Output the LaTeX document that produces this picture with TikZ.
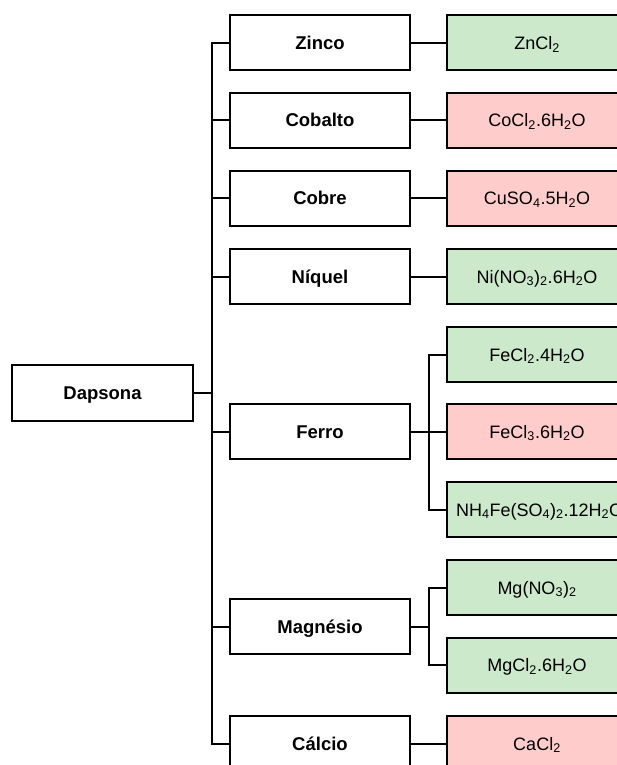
\documentclass[tikz,border=0pt]{standalone}
\usepackage{fontspec}
\setmainfont{Liberation Sans}
\definecolor{gfill}{RGB}{204,233,204}
\definecolor{pfill}{RGB}{255,204,204}
\begin{document}
\begin{tikzpicture}[x=1pt,y=-1pt,
  box/.style={draw=black,line width=2pt,minimum width=180pt,minimum height=55pt,inner sep=0pt,text height=13pt,text depth=0pt,font=\fontsize{18}{20}\selectfont},
  midbox/.style={box,font=\fontsize{18.5}{20}\selectfont\bfseries},
  okbox/.style={box,fill=gfill},
  nobox/.style={box,fill=pfill},
  conn/.style={line width=2pt,line join=miter}]
\clip (0,0) rectangle (617,765);
\fill[white] (0,0) rectangle (617,765);
% root
\node[midbox,minimum width=181pt,minimum height=56pt] (dap) at (102.5,393) {Dapsona};
% middle
\node[midbox] (zin) at (320,43) {Zinco};
\node[midbox] (cob) at (320,120.5) {Cobalto};
\node[midbox] (cub) at (320,198) {Cobre};
\node[midbox] (niq) at (320,276.5) {Níquel};
\node[midbox] (fer) at (320,431.5) {Ferro};
\node[midbox] (mag) at (320,626.5) {Magnésio};
\node[midbox] (cal) at (320,743.5) {Cálcio};
% right
\node[okbox] (zncl) at (537,43) {ZnCl\textsubscript{2}};
\node[nobox] (cocl) at (537,120.5) {CoCl\textsubscript{2}.6H\textsubscript{2}O};
\node[nobox] (cuso) at (537,198) {CuSO\textsubscript{4}.5H\textsubscript{2}O};
\node[okbox] (nino) at (537,276.5) {Ni(NO\textsubscript{3})\textsubscript{2}.6H\textsubscript{2}O};
\node[okbox] (fea) at (537,354.5) {FeCl\textsubscript{2}.4H\textsubscript{2}O};
\node[nobox] (feb) at (537,431.5) {FeCl\textsubscript{3}.6H\textsubscript{2}O};
\node[okbox,text width=180pt,align=left] (fec) at (537,509.5) {\hspace*{9pt}NH\textsubscript{4}Fe(SO\textsubscript{4})\textsubscript{2}.12H\textsubscript{2}O};
\node[okbox] (mga) at (537,587.5) {Mg(NO\textsubscript{3})\textsubscript{2}};
\node[okbox] (mgb) at (537,665) {MgCl\textsubscript{2}.6H\textsubscript{2}O};
\node[nobox] (caa) at (537,743.5) {CaCl\textsubscript{2}};
% connector anchors
\coordinate (tx) at (212,0);
\coordinate (sx) at (429,0);
% trunk
\draw[conn] (dap.east) -- (dap.east -| tx);
\draw[conn] (zin.west) -- (zin.west -| tx) -- (cal.west -| tx) -- (cal.west);
\foreach \m in {cob,cub,niq,fer,mag}{\draw[conn] (\m.west) -- (\m.west -| tx);}
% single links
\draw[conn] (zin.east) -- (zncl.west);
\draw[conn] (cob.east) -- (cocl.west);
\draw[conn] (cub.east) -- (cuso.west);
\draw[conn] (niq.east) -- (nino.west);
\draw[conn] (cal.east) -- (caa.west);
% Ferro
\draw[conn] (fer.east) -- (feb.west);
\draw[conn] (fea.west) -- (fea.west -| sx) -- (fec.west -| sx) -- (fec.west);
% Magnesio
\draw[conn] (mag.east) -- (mag.east -| sx);
\draw[conn] (mga.west) -- (mga.west -| sx) -- (mgb.west -| sx) -- (mgb.west);
\end{tikzpicture}
\end{document}
